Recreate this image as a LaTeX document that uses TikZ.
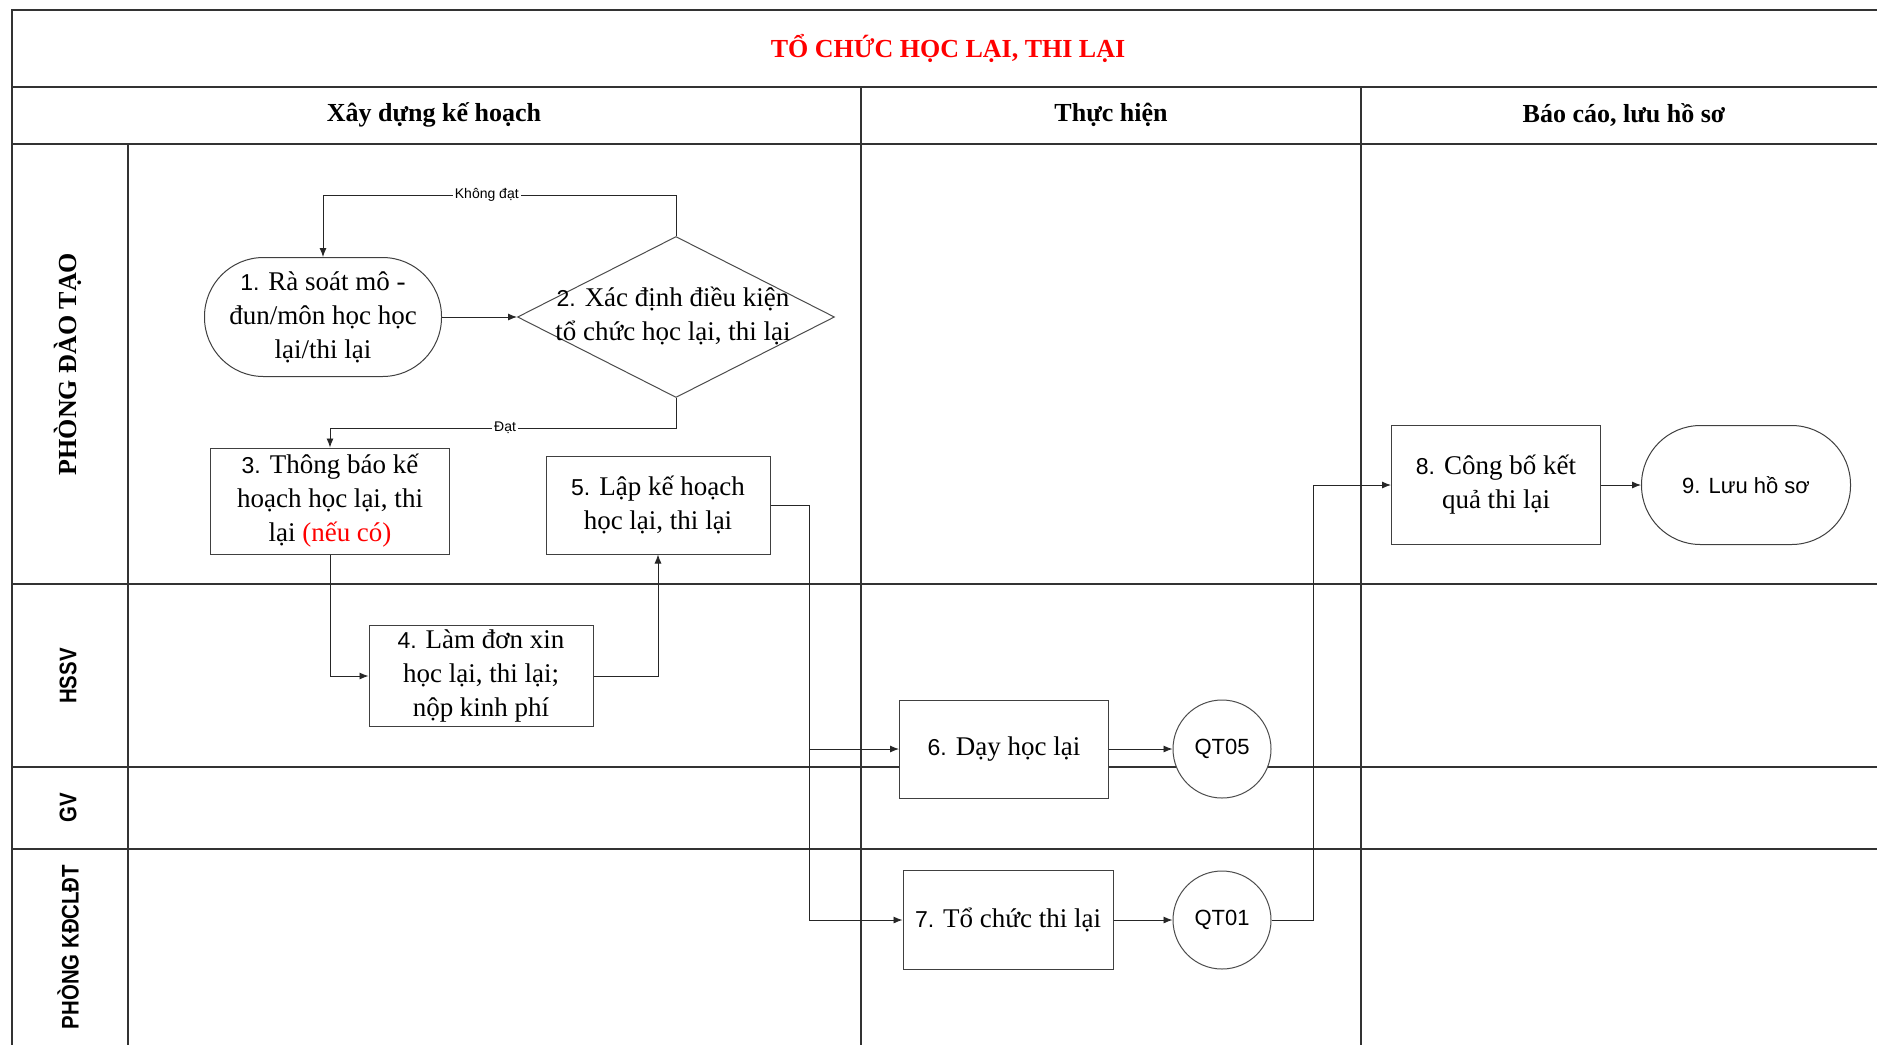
\documentclass[tikz,border=0pt]{standalone}
\usepackage{fontspec}
\setmainfont{Liberation Serif}
\setsansfont{Liberation Sans}
\usetikzlibrary{shapes.geometric,arrows.meta,calc}
\newcommand\nmb[1]{{\sffamily\fontsize{11.5}{17}\selectfont #1}}
\begin{document}
\begin{tikzpicture}[x=0.5pt,y=-0.5pt,
  grid/.style={line width=0.9pt, draw=black!80},
  box/.style={draw=black!75, line width=0.5pt, fill=white, align=center, inner sep=0pt, font=\fontsize{13.5}{17}\selectfont},
  circ/.style={circle, draw=black!70, line width=0.5pt, fill=white, inner sep=0pt, minimum size=49pt, font=\sffamily\fontsize{11}{13}\selectfont},
  arr/.style={-{Latex[length=4.5pt,width=3.5pt]}, line width=0.45pt, draw=black!85},
  conn/.style={line width=0.45pt, draw=black!85},
  lbl/.style={fill=white, inner sep=1pt, font=\sffamily\fontsize{7}{8}\selectfont},
  hdr/.style={font=\bfseries\fontsize{13}{15}\selectfont},
  lanesf/.style={rotate=90, font=\sffamily\bfseries\fontsize{12}{14}\selectfont},
]
\useasboundingbox[fill=white] (0,0) rectangle (1877,1045);
% structure
\draw[grid] (1877,10) -- (12,10) -- (12,1045);
\draw[grid] (12,87) -- (1877,87);
\draw[grid] (12,144) -- (1877,144);
\draw[grid] (861,87) -- (861,1045);
\draw[grid] (1361,87) -- (1361,1045);
\draw[grid] (128,144) -- (128,1045);
\draw[grid] (12,584) -- (1877,584);
\draw[grid] (12,767) -- (1877,767);
\draw[grid] (12,849) -- (1877,849);
% headings
\node[font=\bfseries\fontsize{13}{15}\selectfont, text=red] (title) at (948,48) {TỔ CHỨC HỌC LẠI, THI LẠI};
\node[hdr] (h1) at (434,115) {Xây dựng kế hoạch};
\node[hdr] (h2) at (1111,115) {Thực hiện};
\node[hdr] (h3) at (1624,115) {Báo cáo, lưu hồ sơ};
\node[rotate=90, font=\bfseries\fontsize{13}{15}\selectfont] (l1) at (68,364) {PHÒNG ĐÀO TẠO};
\node[lanesf] (l2) at (68,676) {\scalebox{0.85}[1]{HSSV}};
\node[lanesf] (l3) at (68,808) {\scalebox{0.85}[1]{GV}};
\node[lanesf] (l4) at (68,947) {\scalebox{0.85}[1]{PHÒNG KĐCLĐT}};
% nodes
\node[box, rounded corners=29.5pt, minimum width=118.5pt, minimum height=59.5pt] (n1) at (323,317) {\nmb{1.} Rà soát mô -\\đun/môn học học\\lại/thi lại};
\node[diamond, draw=black!70, line width=0.5pt, fill=white, inner sep=0pt, minimum width=158.5pt, minimum height=80.5pt] (d2) at (676,317) {};
\node[align=center, inner sep=0pt, font=\fontsize{13.5}{17}\selectfont] (d2t) at (673,316) {\nmb{2.} Xác định điều kiện\\tổ chức học lại, thi lại};
\node[box, minimum width=119.5pt, minimum height=53pt] (n3) at (330,501) {\nmb{3.} Thông báo kế\\hoạch học lại, thi\\lại \textcolor{red}{(nếu có)}};
\node[box, minimum width=112pt, minimum height=49pt] (n5) at (658,505) {\nmb{5.} Lập kế hoạch\\học lại, thi lại};
\node[box, minimum width=112pt, minimum height=50.5pt] (n4) at (481,676) {\nmb{4.} Làm đơn xin\\học lại, thi lại;\\nộp kinh phí};
\node[box, minimum width=104.5pt, minimum height=49pt] (n6) at (1004,749) {\nmb{6.} Dạy học lại};
\node[circ] (q5) at (1222,749) {QT05};
\node[box, minimum width=105pt, minimum height=49.5pt] (n7) at (1008,920) {\nmb{7.} Tổ chức thi lại};
\node[circ] (q1) at (1222,920) {QT01};
\node[box, minimum width=104.5pt, minimum height=59.5pt] (n8) at (1496,485) {\nmb{8.} Công bố kết\\quả thi lại};
\node[box, rounded corners=29.5pt, minimum width=104.5pt, minimum height=59.5pt, font=\sffamily\fontsize{11}{13}\selectfont] (n9) at (1746,485) {9. Lưu hồ sơ};
% connectors
\coordinate (kd) at ($(d2.north)+(0,-41)$);
\draw[arr] (d2.north) -- (kd) -| node[lbl, pos=0.268] {Không đạt} (n1.north);
\draw[arr] (n1.east) -- (d2.west);
\coordinate (dd) at ($(d2.south)+(0,30)$);
\draw[arr] (d2.south) -- (dd) -| node[lbl, pos=0.247] {Đạt} (n3.north);
\draw[arr] (n3.south) |- (n4.west);
\draw[arr] (n4.east) -| (n5.south);
\coordinate (b5) at ($(n5.east)+(39,0)$);
\draw[conn] (n5.east) -- (b5);
\draw[arr] (b5) |- (n6.west);
\draw[arr] (b5) |- (n7.west);
\draw[arr] (n6.east) -- (q5.west);
\draw[arr] (n7.east) -- (q1.west);
\coordinate (b1) at ($(q1.east)+(42,0)$);
\draw[conn] (q1.east) -- (b1);
\draw[arr] (b1) |- (n8.west);
\draw[arr] (n8.east) -- (n9.west);
\end{tikzpicture}
\end{document}
